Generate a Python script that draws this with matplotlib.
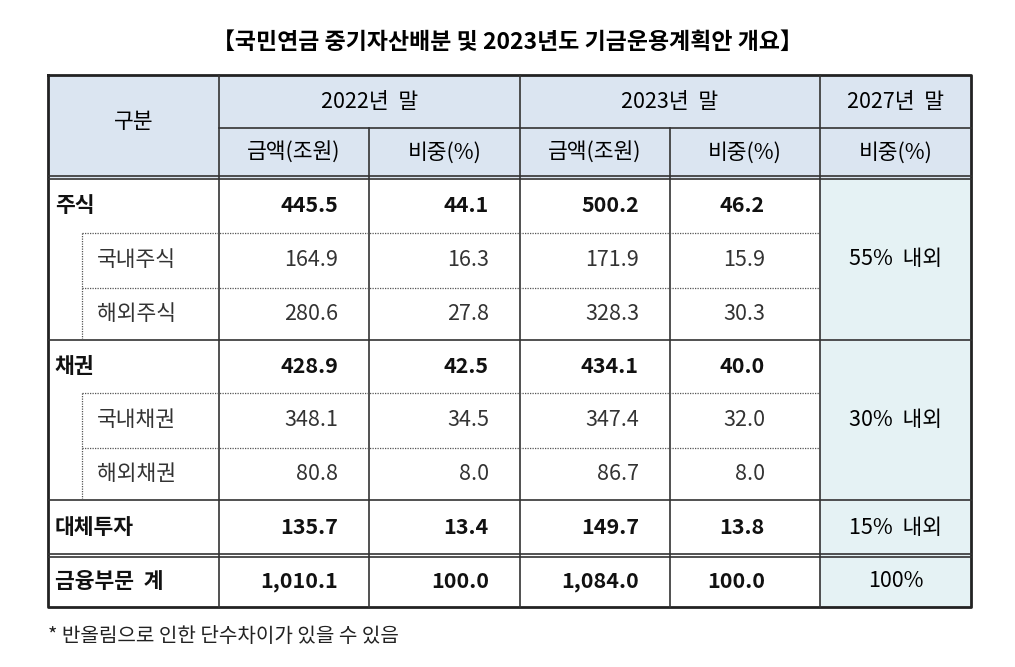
import matplotlib.pyplot as plt
from matplotlib.patches import Rectangle

plt.rcParams["font.family"] = "Noto Sans CJK KR"

TITLE = "【국민연금 중기자산배분 및 2023년도 기금운용계획안 개요】"
FOOTNOTE = "* 반올림으로 인한 단수차이가 있을 수 있음"
YEARS = ["2022년  말", "2023년  말", "2027년  말"]
SUB_HEADERS = ["금액(조원)", "비중(%)", "금액(조원)", "비중(%)", "비중(%)"]

ROW_LABELS = ["주식", "국내주식", "해외주식", "채권", "국내채권", "해외채권",
              "대체투자", "금융부문  계"]
ROW_BOLD = [True, False, False, True, False, False, True, True]
AMOUNT_2022 = ["445.5", "164.9", "280.6", "428.9", "348.1", "80.8", "135.7", "1,010.1"]
SHARE_2022 = ["44.1", "16.3", "27.8", "42.5", "34.5", "8.0", "13.4", "100.0"]
AMOUNT_2023 = ["500.2", "171.9", "328.3", "434.1", "347.4", "86.7", "149.7", "1,084.0"]
SHARE_2023 = ["46.2", "15.9", "30.3", "40.0", "32.0", "8.0", "13.8", "100.0"]
TARGET_2027 = ["55%  내외", "30%  내외", "15%  내외", "100%"]

HEADER_BG = "#dbe5f1"
TARGET_BG = "#e5f2f4"

fig = plt.figure(figsize=(10.15, 6.67), dpi=100)
ax = fig.add_axes([0, 0, 1, 1])
ax.set_xlim(0, 1015)
ax.set_ylim(667, 0)
ax.axis("off")

cols = [48, 219, 369, 520, 670, 820, 971]
rows = [178, 233, 288, 340, 393, 448, 500, 555, 607]
top, mid = 75, 128

# backgrounds
ax.add_patch(Rectangle((cols[0], top), cols[-1] - cols[0], rows[0] - top, color=HEADER_BG, lw=0))
ax.add_patch(Rectangle((cols[5], rows[0]), cols[6] - cols[5], rows[-1] - rows[0], color=TARGET_BG, lw=0))

line = dict(color="#333333", lw=1.2)
dotted = dict(color="#555555", lw=0.9, ls=(0, (1, 1)))
# outer border and header lines
ax.plot([cols[0], cols[-1], cols[-1], cols[0], cols[0]], [top, top, rows[-1], rows[-1], top], color="#222222", lw=2)
ax.plot([cols[1], cols[-1]], [mid, mid], **line)
for y in (rows[0] - 2, rows[0] + 1, rows[7] - 1.5, rows[7] + 1.5):
    ax.plot([cols[0], cols[-1]], [y, y], **line)
for x in (cols[1], cols[3], cols[5]):
    ax.plot([x, x], [top, rows[-1]], **line)
for x in (cols[2], cols[4]):
    ax.plot([x, x], [mid, rows[-1]], **line)
for y in (rows[3], rows[6]):
    ax.plot([cols[0], cols[-1]], [y, y], **line)
# sub-row dotted lines
ax.plot([82, 82], [rows[1], rows[3]], **dotted)
ax.plot([82, 82], [rows[4], rows[6]], **dotted)
for y in (rows[1], rows[2], rows[4], rows[5]):
    ax.plot([82, cols[5]], [y, y], **dotted)

fs = 15.5
ax.text(507, 42, TITLE, ha="center", va="center", fontsize=16.5, fontweight="bold")
ax.text((cols[0] + cols[1]) / 2, (top + rows[0]) / 2 - 5, "구분", ha="center", va="center",
        fontsize=fs, fontweight="medium")
for i, yr in enumerate(YEARS):
    x0, x1 = cols[1 + 2 * i], cols[min(3 + 2 * i, 6)]
    ax.text((x0 + x1) / 2, (top + mid) / 2, yr, ha="center", va="center", fontsize=fs,
            fontweight="medium")
for i, h in enumerate(SUB_HEADERS):
    ax.text((cols[1 + i] + cols[2 + i]) / 2, (mid + rows[0]) / 2, h, ha="center", va="center",
            fontsize=fs, fontweight="medium")

right_edges = [338, 489, 639, 765]
for r, label in enumerate(ROW_LABELS):
    yc = (rows[r] + rows[r + 1]) / 2
    bold = ROW_BOLD[r]
    weight = "bold" if bold else "normal"
    color = "#111111" if bold else "#333333"
    ax.text(55 if bold else 97, yc, label, ha="left", va="center", fontsize=fs,
            fontweight=weight, color=color)
    for j, vals in enumerate((AMOUNT_2022, SHARE_2022, AMOUNT_2023, SHARE_2023)):
        ax.text(right_edges[j], yc, vals[r], ha="right", va="center", fontsize=fs,
                fontweight=weight, color=color)

target_spans = [(rows[0], rows[3]), (rows[3], rows[6]), (rows[6], rows[7]), (rows[7], rows[8])]
for (y0, y1), t in zip(target_spans, TARGET_2027):
    ax.text((cols[5] + cols[6]) / 2, (y0 + y1) / 2, t, ha="center", va="center", fontsize=fs,
            fontweight="medium")

ax.text(48, 637, FOOTNOTE, ha="left", va="center", fontsize=14.5, color="#222222")

fig.savefig("out.png", dpi=100)
